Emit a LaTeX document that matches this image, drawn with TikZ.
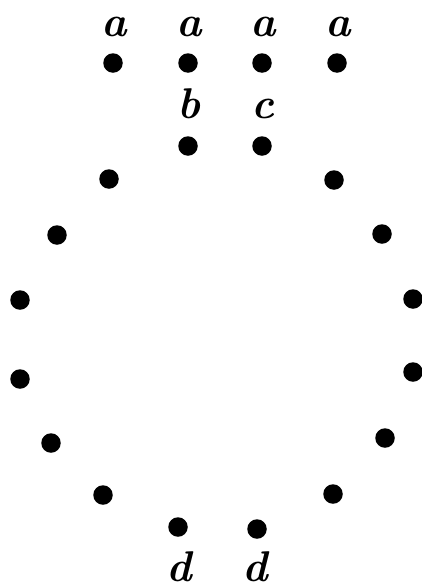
\documentclass[tikz,border=0pt]{standalone}
\begin{document}
\begin{tikzpicture}[x=1pt,y=-1pt,
  dot/.style={circle,fill=black,inner sep=0pt,minimum size=19.5pt},
  lab/.style={anchor=base,inner sep=0pt,font=\fontsize{43}{43}\selectfont\bfseries\itshape}]
\useasboundingbox (0,0) rectangle (421,584);
% top row
\node[dot] (t1) at (113,63) {};
\node[dot] (t2) at (188,63) {};
\node[dot] (t3) at (262,63) {};
\node[dot] (t4) at (337,63) {};
\node[lab] (la1) at (114,36) {a};
\node[lab] (la2) at (189,36) {a};
\node[lab] (la3) at (263,36) {a};
\node[lab] (la4) at (338,36) {a};
% second row
\node[dot] (s1) at (188,146) {};
\node[dot] (s2) at (262,146) {};
\node[lab] (lb) at (189,118) {b};
\node[lab] (lc) at (263,118) {c};
% ring
\node[dot] (r1) at (109,179) {};
\node[dot] (r2) at (334,180) {};
\node[dot] (r3) at (57,235) {};
\node[dot] (r4) at (382,234) {};
\node[dot] (r5) at (20,300) {};
\node[dot] (r6) at (413,299) {};
\node[dot] (r7) at (20,379) {};
\node[dot] (r8) at (413,372) {};
\node[dot] (r9) at (51,443) {};
\node[dot] (r10) at (385,438) {};
\node[dot] (r11) at (103,495) {};
\node[dot] (r12) at (333,494) {};
\node[dot] (r13) at (178,527) {};
\node[dot] (r14) at (257,529) {};
\node[lab] (ld1) at (179,581) {d};
\node[lab] (ld2) at (255,581) {d};
\end{tikzpicture}
\end{document}
